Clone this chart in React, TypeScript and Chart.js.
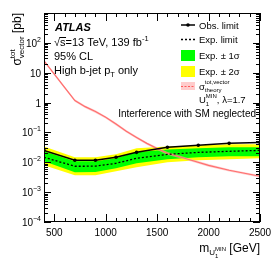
import React, { useEffect, useRef } from 'react';
import { Chart, registerables } from 'chart.js';
Chart.register(...registerables);

const masses = [400, 700, 900, 1100, 1300, 1600, 1900, 2200, 2500];
const observed = [0.0251, 0.0117, 0.0117, 0.0147, 0.0215, 0.032, 0.037, 0.0431, 0.0464];
const expected = [0.0147, 0.00736, 0.0074, 0.00926, 0.0136, 0.0185, 0.0215, 0.0233, 0.0251];
const plus1 = [0.0233, 0.0108, 0.0109, 0.0136, 0.0215, 0.027, 0.0293, 0.0316, 0.0316];
const minus1 = [0.0108, 0.00464, 0.0047, 0.0063, 0.00926, 0.0126, 0.0147, 0.0158, 0.0158];
const plus2 = [0.0341, 0.0147, 0.0148, 0.0185, 0.0293, 0.0341, 0.037, 0.04, 0.04];
const minus2 = [0.0079, 0.00369, 0.0037, 0.005, 0.0068, 0.01, 0.0117, 0.0126, 0.0136];

const theoryMasses = [400, 500, 600, 700, 800, 900, 1000, 1100, 1200, 1300, 1400, 1500, 1600, 1800, 2000, 2200, 2500];
const theory = [25, 9, 3.2, 1.17, 0.73, 0.5, 0.32, 0.19, 0.11, 0.068, 0.043, 0.029, 0.02, 0.0126, 0.0079, 0.0054, 0.0034];
const theoryUp = [27, 9.8, 3.5, 1.28, 0.8, 0.55, 0.35, 0.21, 0.12, 0.075, 0.047, 0.032, 0.022, 0.0138, 0.0087, 0.0059, 0.0037];
const theoryDown = [23, 8.2, 2.9, 1.06, 0.66, 0.45, 0.29, 0.17, 0.1, 0.062, 0.039, 0.026, 0.018, 0.0114, 0.0071, 0.0049, 0.0031];

const xTicks = [500, 1000, 1500, 2000, 2500];
const xTickLabels = ['500', '1000', '1500', '2000', '2500'];
const yDecades = [-4, -3, -2, -1, 0, 1, 2, 3];
const yTickBase = ['10', '10', '10', '10', '1', '10', '10', ''];
const yTickExp = ['\u22124', '\u22123', '\u22122', '\u22121', '', '', '2', ''];

const FONT = '"Liberation Sans", Arial, Helvetica, sans-serif';

type Part = { t: string; size: number; dy?: number; style?: string };

function richWidth(ctx: CanvasRenderingContext2D, parts: Part[]) {
  let w = 0;
  for (const p of parts) {
    ctx.font = `${p.style || ''} ${p.size}px ${FONT}`;
    w += ctx.measureText(p.t).width;
  }
  return w;
}

function drawRich(ctx: CanvasRenderingContext2D, parts: Part[], x: number, y: number, align: 'left' | 'right' = 'left') {
  const w = richWidth(ctx, parts);
  let cx = align === 'right' ? x - w : x;
  ctx.textAlign = 'left';
  ctx.textBaseline = 'alphabetic';
  for (const p of parts) {
    ctx.font = `${p.style || ''} ${p.size}px ${FONT}`;
    ctx.fillText(p.t, cx, y + (p.dy || 0));
    cx += ctx.measureText(p.t).width;
  }
  return w;
}

const framePlugin = {
  id: 'rootFrame',
  afterDraw(chart: any) {
    const ctx: CanvasRenderingContext2D = chart.ctx;
    const { left, right, top, bottom } = chart.chartArea;
    const xs = chart.scales.x;
    const ys = chart.scales.y;
    ctx.save();
    ctx.strokeStyle = '#000';
    ctx.fillStyle = '#000';
    ctx.lineWidth = 1;
    ctx.strokeRect(left + 0.5, top + 0.5, right - left - 1, bottom - top - 1);
    ctx.beginPath();
    for (let v = 400; v <= 2500; v += 100) {
      const px = Math.round(xs.getPixelForValue(v)) + 0.5;
      const len = v % 500 === 0 ? 8 : 4;
      ctx.moveTo(px, bottom);
      ctx.lineTo(px, bottom - len);
      ctx.moveTo(px, top);
      ctx.lineTo(px, top + len);
    }
    for (let d = -4; d < 3; d++) {
      for (let m = 1; m <= 9; m++) {
        const v = m * Math.pow(10, d);
        const py = Math.round(ys.getPixelForValue(v)) + 0.5;
        const len = m === 1 ? 7 : 4;
        ctx.moveTo(left, py);
        ctx.lineTo(left + len, py);
        ctx.moveTo(right, py);
        ctx.lineTo(right - len, py);
      }
    }
    ctx.stroke();

    ctx.textAlign = 'center';
    ctx.textBaseline = 'alphabetic';
    ctx.font = `10px ${FONT}`;
    xTicks.forEach((v, i) => {
      ctx.fillText(xTickLabels[i], xs.getPixelForValue(v), bottom + 14);
    });
    yDecades.forEach((d, i) => {
      if (!yTickBase[i]) return;
      const py = ys.getPixelForValue(Math.pow(10, d));
      const parts: Part[] = [{ t: yTickBase[i], size: 10 }];
      if (yTickExp[i]) parts.push({ t: yTickExp[i], size: 7, dy: -5 });
      drawRich(ctx, parts, left - 3, py + 4, 'right');
    });

    // y title
    ctx.save();
    ctx.translate(21, top);
    ctx.rotate(-Math.PI / 2);
    ctx.font = `12px ${FONT}`;
    const sigW = ctx.measureText('\u03c3').width;
    const pbW = ctx.measureText(' [pb]').width;
    ctx.font = `8px ${FONT}`;
    const stackW = Math.max(ctx.measureText('tot').width, ctx.measureText('vector').width);
    let cx = -(sigW + stackW + pbW);
    ctx.textAlign = 'left';
    ctx.textBaseline = 'alphabetic';
    ctx.font = `12px ${FONT}`;
    ctx.fillText('\u03c3', cx, 0);
    cx += sigW;
    ctx.font = `8px ${FONT}`;
    ctx.fillText('tot', cx, -6);
    ctx.fillText('vector', cx, 3);
    cx += stackW;
    ctx.font = `12px ${FONT}`;
    ctx.fillText(' [pb]', cx, 0);
    ctx.restore();

    // x title
    {
      ctx.font = `12px ${FONT}`;
      const gev = ' [GeV]';
      const gevW = ctx.measureText(gev).width;
      const mW = ctx.measureText('m').width;
      ctx.font = `8px ${FONT}`;
      const uW = ctx.measureText('U').width;
      ctx.font = `6px ${FONT}`;
      const stack = Math.max(ctx.measureText('MIN').width, ctx.measureText('1').width);
      let x0 = right - (mW + uW + stack + gevW);
      const by = 252;
      ctx.textAlign = 'left';
      ctx.font = `12px ${FONT}`;
      ctx.fillText('m', x0, by);
      x0 += mW;
      ctx.font = `8px ${FONT}`;
      ctx.fillText('U', x0, by + 3);
      x0 += uW;
      ctx.font = `6px ${FONT}`;
      ctx.fillText('MIN', x0, by - 1);
      ctx.fillText('1', x0, by + 6);
      x0 += stack;
      ctx.font = `12px ${FONT}`;
      ctx.fillText(gev, x0, by);
    }

    // left labels
    ctx.textAlign = 'left';
    ctx.font = `bold italic 11px ${FONT}`;
    ctx.fillText('ATLAS', 55, 31);
    {
      ctx.font = `11px ${FONT}`;
      const rootW = ctx.measureText('\u221a').width;
      ctx.fillText('\u221as', 54, 46);
      const sW = ctx.measureText('s').width;
      ctx.beginPath();
      ctx.moveTo(54 + rootW - 0.5, 37.5);
      ctx.lineTo(54 + rootW + sW + 0.5, 37.5);
      ctx.stroke();
      drawRich(ctx, [
        { t: '=13 TeV, 139 fb', size: 11 },
        { t: '-1', size: 7.5, dy: -5 },
      ], 54 + rootW + sW, 46);
    }
    ctx.font = `11px ${FONT}`;
    ctx.fillText('95% CL', 54, 60);
    drawRich(ctx, [
      { t: 'High b-jet p', size: 11 },
      { t: 'T', size: 7.5, dy: 3 },
      { t: ' only', size: 11 },
    ], 54, 74);

    // legend
    const lx0 = 181, lx1 = 195, tx = 199;
    ctx.lineWidth = 1.5;
    ctx.strokeStyle = '#000';
    ctx.beginPath();
    ctx.moveTo(lx0, 25);
    ctx.lineTo(lx1, 25);
    ctx.stroke();
    ctx.beginPath();
    ctx.arc(188, 25, 1.8, 0, Math.PI * 2);
    ctx.fill();
    ctx.setLineDash([2, 2]);
    ctx.beginPath();
    ctx.moveTo(lx0, 39.5);
    ctx.lineTo(lx1, 39.5);
    ctx.stroke();
    ctx.setLineDash([]);
    ctx.fillStyle = '#00ff00';
    ctx.fillRect(lx0, 50, lx1 - lx0, 11);
    ctx.fillStyle = '#ffff00';
    ctx.fillRect(lx0, 66, lx1 - lx0, 11);
    ctx.fillStyle = '#ffcccc';
    ctx.fillRect(lx0, 82, lx1 - lx0, 8);
    ctx.strokeStyle = '#ff5a5a';
    ctx.lineWidth = 1;
    ctx.setLineDash([2, 1.5]);
    ctx.beginPath();
    ctx.moveTo(lx0, 86.5);
    ctx.lineTo(lx1, 86.5);
    ctx.stroke();
    ctx.setLineDash([]);
    ctx.fillStyle = '#000';
    ctx.font = `9.5px ${FONT}`;
    ctx.fillText('Obs. limit', tx, 28.5);
    ctx.fillText('Exp. limit', tx, 43);
    ctx.fillText('Exp. \u00b1 1\u03c3', tx, 58.5);
    ctx.fillText('Exp. \u00b1 2\u03c3', tx, 74.5);
    const sgW = ctx.measureText('\u03c3').width;
    ctx.fillText('\u03c3', tx, 90);
    ctx.font = `6px ${FONT}`;
    ctx.fillText('tot,vector', tx + sgW, 84);
    ctx.fillText('theory', tx + sgW, 92);
    ctx.font = `9.5px ${FONT}`;
    const UW = ctx.measureText('U').width;
    ctx.fillText('U', tx, 103);
    ctx.font = `6px ${FONT}`;
    const MINW = ctx.measureText('MIN').width;
    ctx.fillText('MIN', tx + UW, 98);
    ctx.fillText('1', tx + UW, 106);
    ctx.font = `9.5px ${FONT}`;
    ctx.fillText(', \u03bb=1.7', tx + UW + MINW, 103);
    ctx.textAlign = 'right';
    ctx.font = `10px ${FONT}`;
    ctx.fillText('Interference with SM neglected', 256, 117);
    ctx.restore();
  },
};

function pts(xs: number[], ys: number[]) {
  return xs.map((x, i) => ({ x, y: ys[i] }));
}

export default function App() {
  const ref = useRef<HTMLCanvasElement>(null);
  useEffect(() => {
    document.body.style.margin = '0';
    const canvas = ref.current!;
    const none = 'rgba(0,0,0,0)';
    const chart = new Chart(canvas, {
      type: 'line',
      data: {
        datasets: [
          { label: 'obs', data: pts(masses, observed), borderColor: '#000', borderWidth: 1.5, pointRadius: 1.8, pointBackgroundColor: '#000', pointBorderWidth: 0, fill: false, order: 1 },
          { label: 'exp', data: pts(masses, expected), borderColor: '#000', borderWidth: 1.3, borderDash: [2, 2], pointRadius: 0, fill: false, order: 2 },
          { label: 'theory', data: pts(theoryMasses, theory), borderColor: '#ff6e6e', borderWidth: 1.2, pointRadius: 0, fill: false, order: 3 },
          { label: 'thUp', data: pts(theoryMasses, theoryUp), borderColor: none, borderWidth: 0, pointRadius: 0, backgroundColor: 'rgba(255,170,170,0.6)', fill: { target: 4 }, order: 4 },
          { label: 'thDown', data: pts(theoryMasses, theoryDown), borderColor: none, borderWidth: 0, pointRadius: 0, fill: false, order: 5 },
          { label: 'p1', data: pts(masses, plus1), borderColor: none, borderWidth: 0, pointRadius: 0, backgroundColor: '#00ff00', fill: { target: 6 }, order: 6 },
          { label: 'm1', data: pts(masses, minus1), borderColor: none, borderWidth: 0, pointRadius: 0, fill: false, order: 7 },
          { label: 'p2', data: pts(masses, plus2), borderColor: none, borderWidth: 0, pointRadius: 0, backgroundColor: '#ffff00', fill: { target: 8 }, order: 8 },
          { label: 'm2', data: pts(masses, minus2), borderColor: none, borderWidth: 0, pointRadius: 0, fill: false, order: 9 },
        ],
      },
      options: {
        animation: false,
        responsive: false,
        devicePixelRatio: 1,
        layout: { padding: { left: 44, right: 14, top: 13, bottom: 44 } },
        plugins: { legend: { display: false }, tooltip: { enabled: false }, filler: { propagate: false } },
        scales: {
          x: { type: 'linear', min: 400, max: 2500, display: false },
          y: { type: 'logarithmic', min: 1e-4, max: 1e3, display: false },
        },
      },
      plugins: [framePlugin],
    });
    return () => chart.destroy();
  }, []);
  return <canvas ref={ref} width={274} height={266} style={{ display: 'block' }} />;
}
